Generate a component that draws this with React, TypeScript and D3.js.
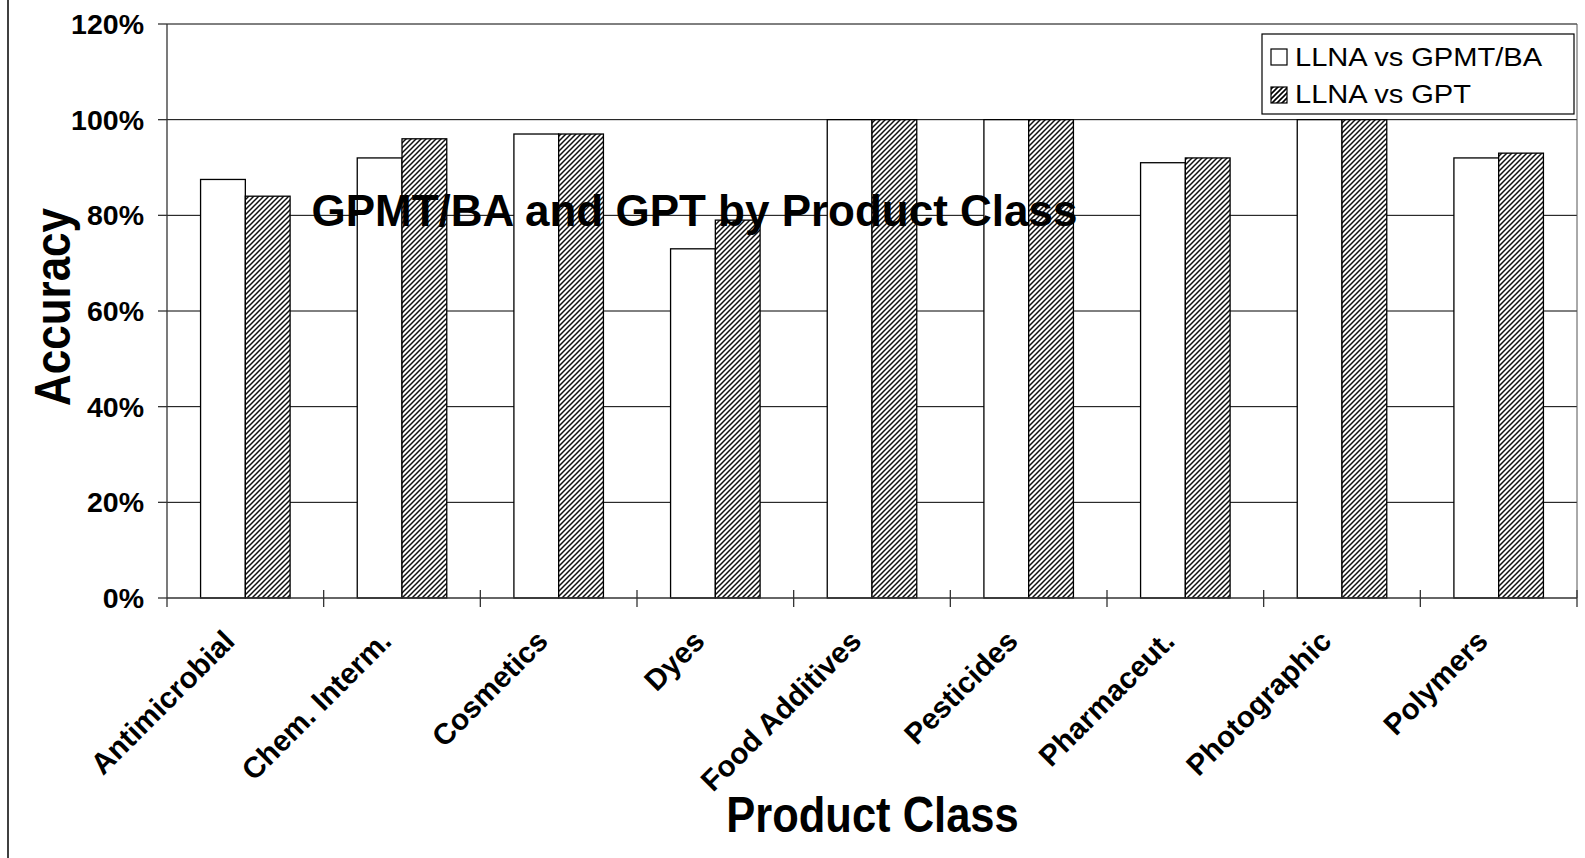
import React from "react";
import * as d3 from "d3";

const categories = ["Antimicrobial", "Chem. Interm.", "Cosmetics", "Dyes", "Food Additives", "Pesticides", "Pharmaceut.", "Photographic", "Polymers"];
const seriesNames = ["LLNA vs GPMT/BA", "LLNA vs GPT"];
const gpmtValues = [0.875, 0.92, 0.97, 0.73, 1.0, 1.0, 0.91, 1.0, 0.92];
const gptValues = [0.84, 0.96, 0.97, 0.79, 1.0, 1.0, 0.92, 1.0, 0.93];
const yTicks = [0, 0.2, 0.4, 0.6, 0.8, 1.0, 1.2];
const titleText = "GPMT/BA and GPT by Product Class";
const xTitle = "Product Class";
const yTitle = "Accuracy";

const W = 1585;
const H = 858;
const left = 167;
const right = 1577;
const top = 24;
const bottom = 598;
const FONT = "Arial, 'Liberation Sans', Helvetica, sans-serif";

export default function App() {
  const x = d3.scaleBand<string>().domain(categories).range([left, right]).padding(0);
  const xi = d3.scaleBand<string>().domain(seriesNames).range([0, x.bandwidth()]).paddingInner(0).paddingOuter(0.75);
  const y = d3.scaleLinear().domain([0, 1.2]).range([bottom, top]);
  const fmt = d3.format(".0%");
  const series = [gpmtValues, gptValues];

  return (
    <svg width={W} height={H} style={{ position: "absolute", left: 0, top: 0, background: "#fff" }} fontFamily={FONT}>
      <defs>
        <pattern id="hatch" patternUnits="userSpaceOnUse" width={5} height={5}>
          <rect width={5} height={5} fill="#fff" />
          <path d="M-1,6 L6,-1 M-3,3 L3,-3 M2,8 L8,2" stroke="#111" strokeWidth={1.5} />
        </pattern>
        <pattern id="hatchL" patternUnits="userSpaceOnUse" width={5} height={5}>
          <rect width={5} height={5} fill="#fff" />
          <path d="M-1,6 L6,-1 M-3,3 L3,-3 M2,8 L8,2" stroke="#000" strokeWidth={1.6} />
        </pattern>
      </defs>
      <rect width={W} height={H} fill="#fff" />
      <line x1={8} x2={8} y1={0} y2={H} stroke="#000" strokeWidth={1.5} />

      {/* gridlines */}
      {yTicks.filter((t) => t > 0).map((t) => (
        <line key={t} x1={left} x2={right} y1={y(t)} y2={y(t)} stroke="#000" strokeWidth={1} />
      ))}
      <line x1={right} x2={right} y1={top} y2={bottom} stroke="#555" strokeWidth={1} />

      {/* bars */}
      {categories.map((c, i) => (
        <g key={c}>
          {series.map((vals, s) => (
            <rect
              key={s}
              x={(x(c) as number) + (xi(seriesNames[s]) as number)}
              y={y(vals[i])}
              width={xi.bandwidth()}
              height={y(0) - y(vals[i])}
              fill={s === 0 ? "#fff" : "url(#hatch)"}
              stroke="#000"
              strokeWidth={1.3}
            />
          ))}
        </g>
      ))}

      {/* axes */}
      <line x1={left} x2={left} y1={top} y2={bottom + 9} stroke="#333" strokeWidth={1.3} />
      <line x1={left} x2={right} y1={bottom} y2={bottom} stroke="#333" strokeWidth={1.3} />
      {yTicks.map((t) => (
        <g key={t}>
          <line x1={left - 9} x2={left} y1={y(t)} y2={y(t)} stroke="#333" strokeWidth={1.3} />
          <text x={144} y={y(t) + 10} textAnchor="end" fontWeight="bold" fontSize={28.5} fill="#000">
            {fmt(t)}
          </text>
        </g>
      ))}
      {categories.map((c) => (
        <line key={c} x1={(x(c) as number) + x.bandwidth()} x2={(x(c) as number) + x.bandwidth()} y1={bottom - 8} y2={bottom + 9} stroke="#333" strokeWidth={1.3} />
      ))}
      {categories.map((c) => {
        const cx = (x(c) as number) + x.bandwidth() / 2 - 9;
        return (
          <text key={c} transform={`translate(${cx},${643}) rotate(-45)`} textAnchor="end" fontWeight="bold" fontSize={29.5} fill="#000">
            {c}
          </text>
        );
      })}

      {/* titles */}
      <text x={694.5} y={226} textAnchor="middle" fontWeight="bold" fontSize={44} fill="#000">
        {titleText}
      </text>
      <text transform={`translate(872.5,832) scale(1,1.14)`} textAnchor="middle" fontWeight="bold" fontSize={43.5} fill="#000">
        {xTitle}
      </text>
      <text transform={`translate(70,307) rotate(-90) scale(1,1.15)`} textAnchor="middle" fontWeight="bold" fontSize={44} fill="#000">
        {yTitle}
      </text>

      {/* legend */}
      <rect x={1262} y={34} width={312} height={80} fill="#fff" stroke="#000" strokeWidth={1.2} />
      {seriesNames.map((n, s) => (
        <g key={n}>
          <rect x={1271} y={49 + s * 38} width={16} height={16} fill={s === 0 ? "#fff" : "url(#hatchL)"} stroke="#000" strokeWidth={1.2} />
          <text transform={`translate(1295,${66 + s * 37}) scale(1.14,1)`} fontSize={25.5} fill="#000">
            {n}
          </text>
        </g>
      ))}
    </svg>
  );
}
